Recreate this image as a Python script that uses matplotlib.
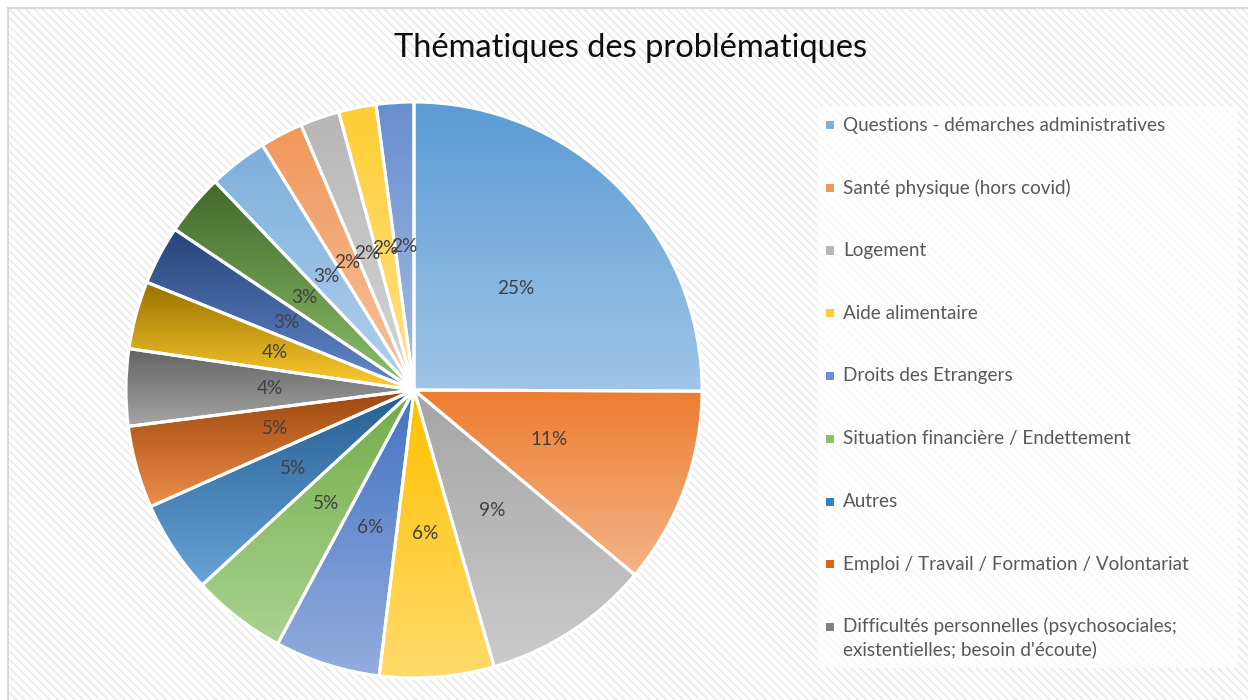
import colorsys
import numpy as np
import matplotlib
matplotlib.use("Agg")
import matplotlib.pyplot as plt
from matplotlib.colors import to_rgb
from matplotlib.patches import Rectangle

# ---------------- data ----------------
title = "Thématiques des problématiques"
categories = [
    "Questions - démarches administratives",
    "Santé physique (hors covid)",
    "Logement",
    "Aide alimentaire",
    "Droits des Etrangers",
    "Situation financière / Endettement",
    "Autres",
    "Emploi / Travail / Formation / Volontariat",
    "Difficultés personnelles (psychosociales;\nexistentielles; besoin d'écoute)",
]
values = [25.0, 11.0, 9.4, 6.4, 5.9, 5.3, 5.2, 4.6, 4.3, 3.8, 3.3, 3.45, 3.3, 2.4, 2.2, 2.1, 2.1]
colors = ["#5B9BD5", "#ED7D31", "#A5A5A5", "#FFC000", "#4472C4", "#70AD47",
          "#255E91", "#9E480E", "#636363", "#997300", "#264478", "#43682B",
          "#7CAFDD", "#F1975A", "#B7B7B7", "#FFCD33", "#698ED0"]

plt.rcParams["font.family"] = ["Lato", "DejaVu Sans"]
plt.rcParams["hatch.linewidth"] = 1.0

W, H = 1248, 700
fig = plt.figure(figsize=(W / 100, H / 100), dpi=100)
fig.patch.set_facecolor("white")


def px(x, y):
    return x / W, 1 - y / H


def lighten(c, f):
    r, g, b = to_rgb(c)
    h, l, s = colorsys.rgb_to_hls(r, g, b)
    l = l + (1 - l) * f
    return colorsys.hls_to_rgb(h, l, s)


# background with diagonal pattern
x0, y0 = px(8, 700)
bg = Rectangle((x0, y0), 1 - x0, (700 - 8) / H, transform=fig.transFigure,
               facecolor="white", edgecolor="#E6E6E6", hatch="\\\\\\\\", lw=0, zorder=-2)
fig.patches.append(bg)
fig.add_artist(plt.Line2D([8 / W, 1], [1 - 8 / H, 1 - 8 / H], color="#D0D0D0", lw=1.2,
                          transform=fig.transFigure, zorder=-1))
fig.add_artist(plt.Line2D([8 / W, 8 / W], [0, 1 - 8 / H], color="#D0D0D0", lw=1.2,
                          transform=fig.transFigure, zorder=-1))

# legend panel
lx0, ly0 = px(817, 668)
legbox = Rectangle((lx0, ly0), (1238 - 817) / W, (668 - 106) / H, transform=fig.transFigure,
                   facecolor="white", alpha=0.75, lw=0, zorder=-1)
fig.patches.append(legbox)

# pie axes
cx, cy, R = 414, 390, 288
ax = fig.add_axes([(cx - R) / W, (H - cy - R) / H, 2 * R / W, 2 * R / H])
ax.set_zorder(2)
ax.set_facecolor("none")
ax.axis("off")

wedges, texts, autotexts = ax.pie(
    values, colors=colors, startangle=90, counterclock=False,
    autopct="%.0f%%", pctdistance=0.5,
    wedgeprops=dict(edgecolor="white", linewidth=2.2),
    textprops=dict(color="#404040", fontsize=13),
)

# gradient fill for each wedge (darker at top, lighter at bottom)
for w, c in zip(wedges, colors):
    t1, t2 = np.deg2rad(w.theta1), np.deg2rad(w.theta2)
    ang = np.linspace(t1, t2, 60)
    xs = np.concatenate([[w.center[0]], w.r * np.cos(ang) + w.center[0]])
    ys = np.concatenate([[w.center[1]], w.r * np.sin(ang) + w.center[1]])
    top = np.array(to_rgb(c))
    bot = np.array(lighten(c, 0.42))
    n = 64
    tt = np.linspace(0, 1, n)[:, None]
    grad = (top[None, :] * (1 - tt) + bot[None, :] * tt)[:, None, :]
    im = ax.imshow(grad, extent=[xs.min(), xs.max(), ys.min(), ys.max()], origin="upper",
                   aspect="auto", interpolation="bilinear", zorder=1)
    im.set_clip_path(w)
    w.set_facecolor("none")
    w.set_zorder(2)
for t in autotexts:
    t.set_zorder(3)

ax.set_xlim(-1.0, 1.0)
ax.set_ylim(-1.0, 1.0)
ax.set_aspect("equal")

# title
tx, ty = px(630.5, 48)
ttl = fig.text(tx, ty, title, ha="center", va="center", fontsize=21, color="#0D0D0D")

# legend entries
row0, dy = 125, 62.75
leg_texts = []
for i, name in enumerate(categories):
    yc = row0 + i * dy
    mc = lighten(colors[i], 0.2)
    sx, sy = px(826, yc + 4)
    fig.patches.append(Rectangle((sx, sy), 8 / W, 8 / H, transform=fig.transFigure,
                                 facecolor=mc, lw=0, zorder=3))
    if "\n" in name:
        tx_, ty_ = px(843, yc - 10)
        t = fig.text(tx_, ty_, name, ha="left", va="top", fontsize=13, color="#595959",
                     linespacing=1.32, zorder=4)
    else:
        tx_, ty_ = px(843, yc)
        t = fig.text(tx_, ty_, name, ha="left", va="center", fontsize=13, color="#595959", zorder=4)
    leg_texts.append(t)

# fit font sizes to reference text widths
fig.canvas.draw()
r = fig.canvas.get_renderer()


def fit(t, target):
    bb = t.get_window_extent(r)
    return t.get_fontsize() * target / bb.width


ttl.set_fontsize(fit(ttl, 475))
fs_leg = fit(leg_texts[0], 321)
for t in leg_texts:
    t.set_fontsize(fs_leg)
fs_pct = fit(autotexts[0], 37)
for t in autotexts:
    t.set_fontsize(fs_pct)

fig.savefig("out.png", dpi=100, facecolor="white")
